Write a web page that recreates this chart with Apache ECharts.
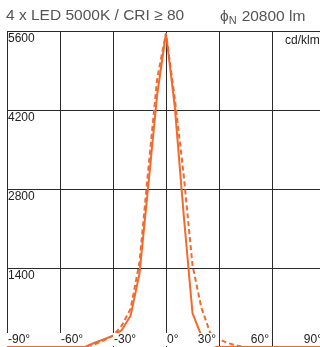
<!DOCTYPE html>
<html><head><meta charset="utf-8">
<script src="https://cdn.jsdelivr.net/npm/echarts@6/dist/echarts.min.js"></script>
<style>html,body{margin:0;padding:0;background:#fff;overflow:hidden}#c{width:330px;height:347px}</style>
</head><body><div id="c"></div>
<script>
const angles = [-90,-85,-80,-75,-70,-65,-60,-55,-50,-45,-40,-35,-30,-25,-20,-15,-10,-5,0,5,10,15,20,25,30,35,40,45,50,55,60,65,70,75,80,85,90];
const solidValues = [0,0,0,0,0,0,0,0,0,15,80,140,200,300,560,1300,2870,4470,5560,4250,2350,600,200,60,0,0,0,0,0,0,0,0,0,0,0,0,0];
const dashedValues = [0,0,0,0,0,0,0,0,0,10,50,120,200,380,680,1500,3150,4750,5560,4400,3050,1450,700,250,140,70,25,0,0,0,0,0,0,0,0,0,0];
const xNegLabels = [-90,-60,-30,0];
const xPosLabels = [30,60,90];
const yLabels = [1400,2800,4200,5600];
const titleText = '4 x LED 5000K / CRI \u2265 80';
const fluxText = '20800 lm';
const unitText = 'cd/klm';

const FONT = "'Liberation Sans', Arial, Helvetica, sans-serif";
const ORANGE = '#f26a2c';
const GRIDC = '#2a2a2a';

const chart = echarts.init(document.getElementById('c'), null, {renderer: 'canvas'});
const baseX = {type: 'value', min: -90, max: 90, interval: 30, gridIndex: 0, position: 'bottom'};
const titleStyle = {fontSize: 15.5, fontWeight: 'normal', color: '#555', fontFamily: FONT};
chart.setOption({
  animation: false,
  backgroundColor: '#fff',
  title: [
    {text: titleText, left: 6, top: 8, padding: 0, textStyle: titleStyle},
    {text: '{p|\u03d5}{s|N} {t|' + fluxText + '}', left: 220, top: 8, padding: 0,
     textStyle: {fontWeight: 'normal', rich: {
       p: titleStyle,
       s: {fontSize: 11, fontWeight: 'normal', color: '#555', fontFamily: FONT, verticalAlign: 'bottom', padding: [7,0,0,0]},
       t: titleStyle
     }}},
    {text: unitText, left: 285, top: 35, padding: 0,
     textStyle: {fontSize: 12, fontWeight: 'normal', color: '#222', fontFamily: FONT}}
  ],
  grid: {left: 7, top: 31, width: 318, height: 316, containLabel: false},
  xAxis: [
    Object.assign({}, baseX, {
      axisLine: {show: false}, axisTick: {show: false}, axisLabel: {show: false},
      splitLine: {show: true, lineStyle: {color: GRIDC, width: 1}}
    }),
    Object.assign({}, baseX, {
      z: 10,
      axisLine: {show: false}, axisTick: {show: false}, splitLine: {show: false},
      axisLabel: {show: true, inside: true, margin: 1, align: 'left', customValues: xNegLabels,
        showMinLabel: true, showMaxLabel: true,
        formatter: v => v + '\u00b0', fontSize: 12, color: '#222', fontFamily: FONT,
        backgroundColor: '#fff', padding: [1, 2, 0, 1]}
    }),
    Object.assign({}, baseX, {
      z: 10,
      axisLine: {show: false}, axisTick: {show: false}, splitLine: {show: false},
      axisLabel: {show: true, inside: true, margin: 1, align: 'right', customValues: xPosLabels,
        showMinLabel: true, showMaxLabel: true,
        formatter: v => v + '\u00b0', fontSize: 12, color: '#222', fontFamily: FONT,
        backgroundColor: '#fff', padding: [1, 3, 0, 2]}
    })
  ],
  yAxis: [{
    type: 'value', min: 0, max: 5600, interval: 1400,
    axisLine: {show: false}, axisTick: {show: false},
    splitLine: {show: true, lineStyle: {color: GRIDC, width: 1}},
    axisLabel: {show: true, inside: true, margin: 1, align: 'left', verticalAlign: 'top',
      customValues: yLabels, showMaxLabel: true, formatter: v => String(v),
      fontSize: 12, color: '#222', fontFamily: FONT, padding: [2, 0, 0, 0]}
  }],
  series: [
    {type: 'line', xAxisIndex: 0, yAxisIndex: 0, showSymbol: false, clip: false, z: 3,
     data: angles.map((a, i) => [a, solidValues[i]]),
     lineStyle: {color: ORANGE, width: 2}},
    {type: 'line', xAxisIndex: 0, yAxisIndex: 0, showSymbol: false, clip: false, z: 3,
     data: angles.map((a, i) => [a, dashedValues[i]]),
     lineStyle: {color: ORANGE, width: 2, type: [5, 3]}}
  ]
});
</script>
</body></html>
